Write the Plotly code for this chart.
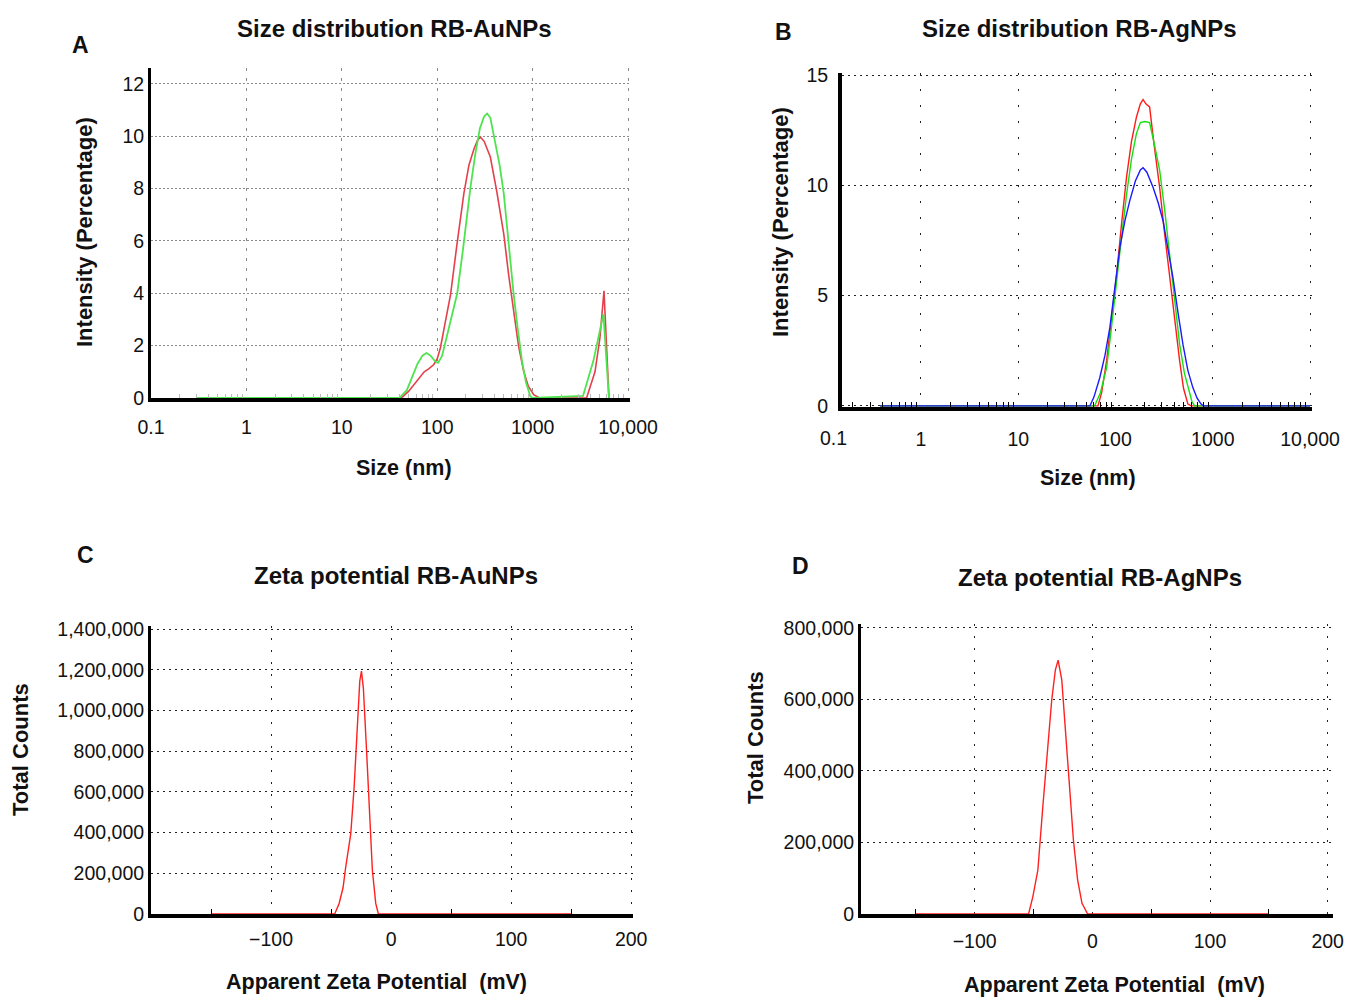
import plotly.graph_objects as go

W, H = 1349, 997
def px(x): return x / W
def py(y): return 1 - y / H

FONT = "Liberation Sans, Arial, sans-serif"

# ---------------- Data ----------------
# Panel A: size distribution RB-AuNPs (nm, intensity %)
a_red_x = [0.3, 42, 50, 58, 66, 73, 82, 92, 100, 108, 120, 138, 160, 190, 215, 242, 265, 284, 310, 360,
           420, 498, 560, 632, 710, 805, 900, 1024, 1180, 3670, 4500, 5070, 5590, 6300]
a_red_y = [0, 0, 0.25, 0.55, 0.82, 1.0, 1.12, 1.28, 1.5, 1.92, 2.8, 3.96, 5.8, 7.8, 8.9, 9.5, 9.85, 9.96, 9.8, 9.2,
           7.9, 6.26, 4.7, 3.32, 2.0, 1.02, 0.45, 0.13, 0, 0, 1.0, 2.3, 4.09, 0]
a_green_x = [0.3, 40, 48, 55, 62, 70, 77, 85, 95, 102, 112, 125, 140, 162, 185, 205, 223, 250, 280, 310, 333,
             360, 400, 450, 498, 560, 632, 700, 774, 850, 946, 1000, 3370, 4320, 4880, 5510, 6300]
a_green_y = [0, 0, 0.3, 0.8, 1.3, 1.62, 1.72, 1.62, 1.4, 1.34, 1.6, 2.3, 3.1, 4.0, 5.6, 7.0, 8.05, 9.3, 10.3, 10.75, 10.86,
             10.7, 9.9, 8.9, 7.8, 5.9, 3.96, 2.6, 1.4, 0.6, 0.06, 0, 0.08, 1.41, 2.3, 3.2, 0]

# Panel B: size distribution RB-AgNPs (nm, intensity %)
b_red_x = [0.38, 66, 72, 81, 90, 102, 115, 130, 146, 164, 180, 192, 205, 224, 250, 284, 320, 360, 405, 456, 500, 555, 600, 10000]
b_red_y = [0, 0, 0.6, 2.05, 3.8, 5.83, 8.2, 10.4, 12.0, 13.1, 13.7, 13.9, 13.7, 13.56, 11.8, 9.92, 7.8, 5.83, 3.8, 2.05, 0.8, 0.08, 0, 0]
b_green_x = [0.38, 61, 70, 81, 90, 102, 115, 130, 146, 164, 180, 200, 224, 250, 284, 320, 360, 405, 456, 510, 560, 610, 650, 10000]
b_green_y = [0, 0, 0.6, 1.74, 3.4, 5.4, 7.6, 9.6, 11.2, 12.35, 12.85, 12.9, 12.85, 11.9, 10.7, 8.9, 6.9, 4.8, 2.8, 1.5, 0.83, 0.2, 0, 0]
b_blue_x = [0.38, 54.6, 60, 69, 78, 87.5, 98, 111, 125, 140, 160, 180, 192, 210, 243, 275, 308, 345, 389, 440, 493, 555, 624, 690, 758, 800, 10000]
b_blue_y = [0, 0, 0.4, 1.29, 2.3, 3.56, 5.3, 7.2, 8.4, 9.3, 10.2, 10.7, 10.8, 10.6, 9.92, 9.2, 8.4, 7.2, 5.83, 4.2, 2.8, 1.6, 0.83, 0.35, 0.08, 0, 0]

# Panel C: zeta potential RB-AuNPs (mV, total counts)
c_x = [-150, -47, -43.3, -40, -37.8, -33.6, -30.8, -28, -26.1, -24.7, -23.1, -20.3, -18.3, -15.6, -12.8, -10.6, 150]
c_y = [0, 0, 52000, 130000, 231000, 394000, 622000, 948000, 1144000, 1193000, 1110000, 786000, 543000, 215000, 52000, 0, 0]

# Panel D: zeta potential RB-AgNPs (mV, total counts)
d_x = [-150, -54.2, -50.6, -46.3, -42.1, -37.9, -34.5, -31.4, -29.1, -26, -22.9, -19.5, -16.1, -12.5, -8.8, -4, 150]
d_y = [0, 0, 48000, 123000, 300000, 468000, 599000, 683000, 710000, 655000, 515000, 356000, 207000, 95000, 30000, 0, 0]

# Tick labels
size_tickvals = [0.1, 1, 10, 100, 1000, 10000]
size_ticktext = ["0.1", "1", "10", "100", "1000", "10,000"]
a_ytickvals = [0, 2, 4, 6, 8, 10, 12]
b_ytickvals = [0, 5, 10, 15]
zeta_tickvals = [-100, 0, 100, 200]
zeta_ticktext = ["\u2212100", "0", "100", "200"]
c_ytickvals = [0, 200000, 400000, 600000, 800000, 1000000, 1200000, 1400000]
c_yticktext = ["0", "200,000", "400,000", "600,000", "800,000", "1,000,000", "1,200,000", "1,400,000"]
d_ytickvals = [0, 200000, 400000, 600000, 800000]
d_yticktext = ["0", "200,000", "400,000", "600,000", "800,000"]
log_minor = [m * 10 ** e for e in range(-1, 4) for m in range(2, 10)]
zeta_minor = [-150, -50, 50, 150]

titles = ["Size distribution RB-AuNPs", "Size distribution RB-AgNPs",
          "Zeta potential RB-AuNPs", "Zeta potential RB-AgNPs"]
letters = ["A", "B", "C", "D"]
size_xtitle = "Size (nm)"
size_ytitle = "Intensity (Percentage)"
zeta_xtitle = "Apparent Zeta Potential  (mV)"
zeta_ytitle = "Total Counts"

# ---------------- Figure ----------------
fig = go.Figure()
def line(x, y, color, xa, ya, width=1.4):
    fig.add_trace(go.Scatter(x=x, y=y, mode="lines", line=dict(color=color, width=width),
                             xaxis=xa, yaxis=ya, hoverinfo="skip"))

line(a_red_x, a_red_y, "#e4404c", "x", "y", 1.6)
line(a_green_x, a_green_y, "#4fe34f", "x", "y", 1.8)
line(b_red_x, b_red_y, "#ff1a1a", "x2", "y2")
line(b_green_x, b_green_y, "#14e014", "x2", "y2")
line(b_blue_x, b_blue_y, "#1a1aff", "x2", "y2")
line(c_x, c_y, "#ff2020", "x3", "y3")
line(d_x, d_y, "#ff2020", "x4", "y4")

tickfont = dict(family=FONT, size=19.5, color="#111")
common = dict(showline=True, linecolor="black", zeroline=False, ticks="", tickfont=tickfont,
              showgrid=True, gridwidth=1, automargin=False)

fig.update_layout(
    width=W, height=H, margin=dict(l=0, r=0, t=0, b=0, autoexpand=False),
    paper_bgcolor="white", plot_bgcolor="white", showlegend=False,
    xaxis=dict(common, domain=[px(151), px(630)], type="log", range=[-1, 4.02], anchor="y",
               tickvals=size_tickvals, ticktext=size_ticktext, linewidth=4,
               gridcolor="#8a8a8a", griddash="3px,7px", ticklabelstandoff=9,
               minor=dict(ticks="inside", ticklen=4, tickcolor="#bbbbbb", tickvals=log_minor, showgrid=False)),
    yaxis=dict(common, domain=[py(398), py(68)], range=[0, 12.6], anchor="x",
               tickvals=a_ytickvals, linewidth=3, gridcolor="#8a8a8a", griddash="2px,2px",
               ticklabelstandoff=0),
    xaxis2=dict(common, domain=[px(842), px(1312)], type="log", range=[-0.812, 4.02], anchor="y2",
                tickvals=size_tickvals, ticktext=size_ticktext, linewidth=4,
                gridcolor="#222", griddash="2px,14px", ticklabelstandoff=12,
                minor=dict(ticks="inside", ticklen=5, tickcolor="black", tickvals=log_minor, showgrid=False)),
    yaxis2=dict(common, domain=[py(407), py(73)], range=[-0.05, 15.1], anchor="x2",
                tickvals=b_ytickvals, linewidth=4, gridcolor="#222", griddash="2px,4px",
                ticklabelstandoff=6),
    xaxis3=dict(common, domain=[px(151), px(633)], range=[-200, 201.5], anchor="y3",
                tickvals=zeta_tickvals, ticktext=zeta_ticktext, linewidth=4,
                gridcolor="#222", griddash="2px,10px", ticklabelstandoff=5,
                minor=dict(ticks="inside", ticklen=5, tickcolor="black", tickvals=zeta_minor, showgrid=False)),
    yaxis3=dict(common, domain=[py(914), py(626)], range=[0, 1415000], anchor="x3",
                tickvals=c_ytickvals, ticktext=c_yticktext, linewidth=3,
                gridcolor="#222", griddash="2px,4px", ticklabelstandoff=0),
    xaxis4=dict(common, domain=[px(861), px(1333)], range=[-196.6, 204.5], anchor="y4",
                tickvals=zeta_tickvals, ticktext=zeta_ticktext, linewidth=4,
                gridcolor="#222", griddash="2px,10px", ticklabelstandoff=7,
                minor=dict(ticks="inside", ticklen=5, tickcolor="black", tickvals=zeta_minor, showgrid=False)),
    yaxis4=dict(common, domain=[py(914), py(624)], range=[0, 811000], anchor="x4",
                tickvals=d_ytickvals, ticktext=d_yticktext, linewidth=3,
                gridcolor="#222", griddash="2px,4px", ticklabelstandoff=0),
)

def ann(text, x, y, size, bold=True, angle=0):
    fig.add_annotation(text=f"<b>{text}</b>" if bold else text, x=px(x), y=py(y),
                       xref="paper", yref="paper", showarrow=False, textangle=angle,
                       xanchor="center", yanchor="middle",
                       font=dict(family=FONT, size=size, color="#111"))

# titles
for t, (x, y) in zip(titles, [(394, 28), (1079, 28), (396, 575), (1100, 577)]):
    ann(t, x, y, 24)
for l, (x, y) in zip(letters, [(80, 45), (783, 32), (85, 555), (800, 566)]):
    ann(l, x, y, 23)
ann(size_xtitle, 404, 468, 21.5)
ann(size_xtitle, 1088, 478, 21.5)
ann(size_ytitle, 85, 232, 22, angle=-90)
ann(size_ytitle, 780, 222, 22, angle=-90)
ann(zeta_xtitle, 376, 982, 21.5)
ann(zeta_xtitle, 1114, 985, 21.5)
ann(zeta_ytitle, 20, 750, 22, angle=-90)
ann(zeta_ytitle, 755, 738, 22, angle=-90)
# out-of-range "0.1" tick label of panel B
ann(size_ticktext[0], 833, 438, 19.5, bold=False)

fig.write_html("out.html", config={"displayModeBar": False},
               post_script="document.body.style.margin='0px';")
